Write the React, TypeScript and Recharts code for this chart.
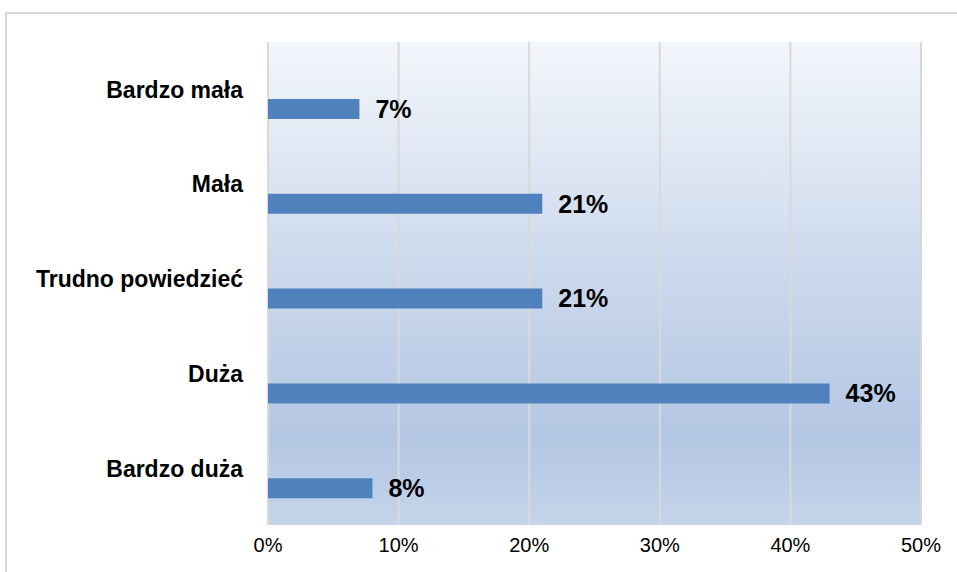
import React from 'react';
import { BarChart, Bar, XAxis, YAxis, CartesianGrid, LabelList } from 'recharts';

const categories = ['Bardzo mała', 'Mała', 'Trudno powiedzieć', 'Duża', 'Bardzo duża'];
const shares = [7, 21, 21, 43, 8];
const xTicks = [0, 10, 20, 30, 40, 50];

const data = categories.map((name, i) => ({ name, spacer: 0, value: shares[i] }));

const font = 'Liberation Sans, Arial, sans-serif';

const App: React.FC = () => {
  return (
    <div style={{ position: 'absolute', left: 0, top: 0, width: 957, height: 572, overflow: 'hidden', background: '#fff' }}>
      {/* outer frame, runs off the right and bottom edge */}
      <div
        style={{
          position: 'absolute',
          left: 5,
          top: 12,
          width: 1000,
          height: 620,
          border: '2px solid #d9d9d9',
          boxSizing: 'border-box'
        }}
      />
      <div style={{ position: 'absolute', left: 0, top: 0 }}>
        <BarChart
          width={957}
          height={572}
          data={data}
          layout="vertical"
          margin={{ top: 42, right: 36, left: 0, bottom: 0 }}
          barSize={20}
          barGap={19}
        >
          <defs>
            <linearGradient id="plotBg" x1="0" y1="0" x2="0" y2="1">
              <stop offset="0%" stopColor="#f3f6fb" />
              <stop offset="45%" stopColor="#cddaed" />
              <stop offset="82%" stopColor="#b3c6e3" />
              <stop offset="100%" stopColor="#c4d4ea" />
            </linearGradient>
          </defs>
          <CartesianGrid horizontal={false} stroke="#d9d9d9" strokeWidth={2} fill="url(#plotBg)" fillOpacity={1} />
          <XAxis
            type="number"
            domain={[0, 50]}
            ticks={xTicks}
            tickFormatter={(v: number) => `${v}%`}
            axisLine={false}
            tickLine={false}
            tickSize={0}
            tickMargin={13}
            height={47}
            tick={{ fill: '#000', fontSize: 20, fontFamily: font }}
          />
          <YAxis
            type="category"
            dataKey="name"
            width={268}
            axisLine={false}
            tickLine={false}
            tickSize={0}
            tickMargin={25}
            padding={{ top: 0, bottom: 9 }}
            tick={{ fill: '#000', fontSize: 23, fontWeight: 700, fontFamily: font }}
          />
          <Bar dataKey="spacer" fill="transparent" isAnimationActive={false} />
          <Bar dataKey="value" fill="#4f81bd" isAnimationActive={false}>
            <LabelList
              dataKey="value"
              position="right"
              offset={16}
              formatter={(v: number) => `${v}%`}
              style={{ fill: '#000', fontSize: 25, fontWeight: 700, fontFamily: font }}
            />
          </Bar>
        </BarChart>
      </div>
    </div>
  );
};

export default App;
